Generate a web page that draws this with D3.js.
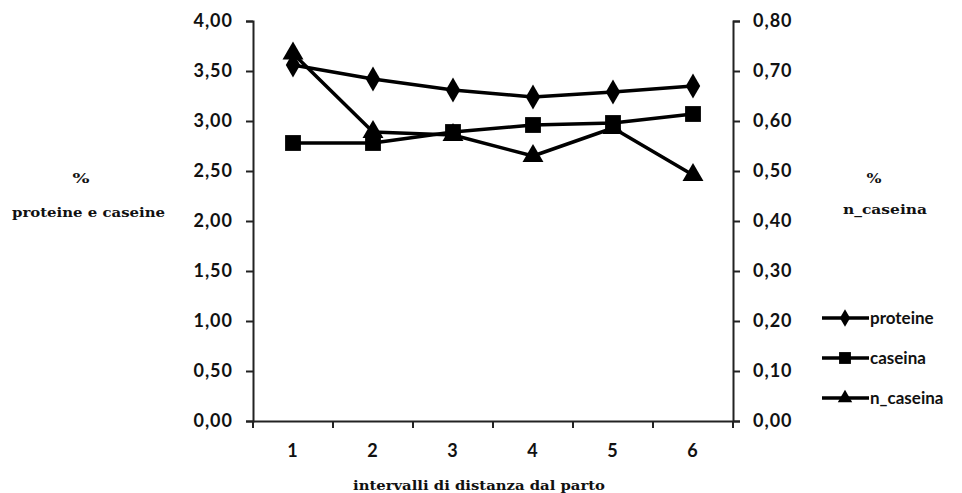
<!DOCTYPE html>
<html><head><meta charset="utf-8">
<script src="https://cdn.jsdelivr.net/npm/d3@7"></script>
<style>
body{margin:0;background:#fff;}
.tick text{font-family:Lato,"Open Sans",sans-serif;font-weight:bold;font-size:18px;letter-spacing:1px;fill:#111;}
</style></head>
<body><svg id="c" width="962" height="493"></svg>
<script>
const categories = ["1","2","3","4","5","6"];
const proteine  = [3.56, 3.42, 3.31, 3.24, 3.29, 3.35];
const caseina   = [2.78, 2.78, 2.89, 2.96, 2.98, 3.07];
const n_caseina = [0.735, 0.578, 0.572, 0.530, 0.586, 0.492];
const leftTicks  = [0,0.5,1,1.5,2,2.5,3,3.5,4];
const rightTicks = [0,0.1,0.2,0.3,0.4,0.5,0.6,0.7,0.8];

const svg = d3.select("#c");
const L = 253, R = 733, T = 21, B = 421;
const x = d3.scaleBand().domain(categories).range([L, R]).padding(0);
const yL = d3.scaleLinear().domain([0,4]).range([B, T]);
const yR = d3.scaleLinear().domain([0,0.8]).range([B, T]);
const fmt2 = d => d.toFixed(2).replace(".", ",");

const gL = svg.append("g").attr("transform",`translate(${L},0)`)
  .call(d3.axisLeft(yL).tickValues(leftTicks).tickFormat(fmt2).tickSize(7).tickPadding(13));
const gR = svg.append("g").attr("transform",`translate(${R},0)`)
  .call(d3.axisRight(yR).tickValues(rightTicks).tickFormat(fmt2).tickSize(7).tickPadding(13));
const gX = svg.append("g").attr("transform",`translate(0,${B})`)
  .call(d3.axisBottom(x).tickSize(0).tickPadding(23));
gX.selectAll(".bt").data(d3.range(categories.length+1)).enter().append("line")
  .attr("x1", i => L + i*x.step()).attr("x2", i => L + i*x.step())
  .attr("y1", 0).attr("y2", 7).attr("stroke","#222").attr("stroke-width",2);
[gL,gR,gX].forEach(g => {
  g.select(".domain").attr("stroke","#222").attr("stroke-width",2);
  g.selectAll(".tick line").attr("stroke","#222").attr("stroke-width",2);
});

const cx = d => x(d) + x.bandwidth()/2;
const lineL = d3.line().x((d,i)=>cx(categories[i])).y(d=>yL(d));
const lineR = d3.line().x((d,i)=>cx(categories[i])).y(d=>yR(d));

function series(vals, lineFn, yS, sym, size){
  svg.append("path").attr("d", lineFn(vals)).attr("fill","none")
    .attr("stroke","#000").attr("stroke-width",3.5).attr("stroke-linejoin","round");
  svg.selectAll(null).data(vals).enter().append("path")
    .attr("d", d3.symbol().type(sym).size(size))
    .attr("transform",(d,i)=>`translate(${cx(categories[i])},${yS(d)})`)
    .attr("fill","#000");
}
series(proteine, lineL, yL, d3.symbolDiamond, 180);
series(caseina, lineL, yL, d3.symbolSquare, 250);
series(n_caseina, lineR, yR, d3.symbolTriangle, 190);

const serif = "'DejaVu Serif','Liberation Serif',serif";
function t(xp, yp, s, size, len){
  const e = svg.append("text").attr("x",xp).attr("y",yp).attr("text-anchor","middle")
    .attr("font-family",serif).attr("font-weight","bold").attr("font-size",size)
    .attr("fill","#111").text(s);
  if (len) e.attr("textLength", len).attr("lengthAdjust","spacingAndGlyphs");
}
t(81, 183, "%", 12, 17);
t(88.5, 217, "proteine e caseine", 12, 153);
t(874, 183, "%", 12, 15);
t(885, 214, "n_caseina", 12, 84);
t(479, 490, "intervalli di distanza dal parto", 13, 252);

const legend = [["proteine", d3.symbolDiamond, 90],["caseina", d3.symbolSquare, 140],["n_caseina", d3.symbolTriangle, 90]];
legend.forEach((l,i) => {
  const yy = 318 + i*40;
  svg.append("line").attr("x1",822).attr("x2",869).attr("y1",yy).attr("y2",yy)
    .attr("stroke","#000").attr("stroke-width",3.5);
  svg.append("path").attr("d", d3.symbol().type(l[1]).size(l[2]))
    .attr("transform",`translate(845,${yy})`).attr("fill","#000");
  svg.append("text").attr("x",870).attr("y",yy+6).attr("font-family","Lato,'Open Sans',sans-serif")
    .attr("font-weight","bold").attr("font-size",17).attr("fill","#111").text(l[0]);
});
</script></body></html>
